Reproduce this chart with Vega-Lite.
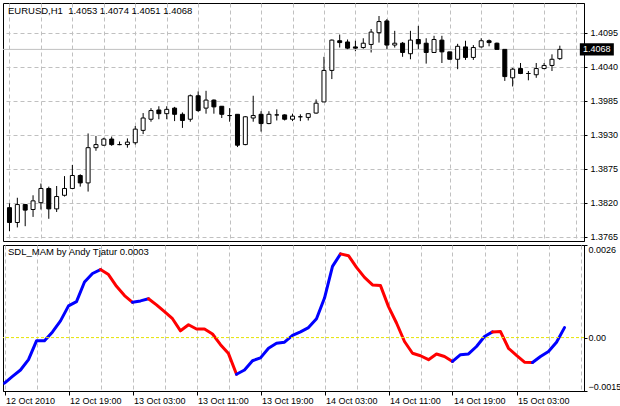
{
"$schema": "https://vega.github.io/schema/vega-lite/v6.json",
"background": "white",
"padding": {"left": 2, "top": 2, "right": 0, "bottom": 2},
"spacing": 1,
"config": {
  "view": {"stroke": "black", "strokeWidth": 1},
  "axis": {"labelFont": "Liberation Sans", "labelFontSize": 9, "labelColor": "black", "tickColor": "black", "domainColor": "black", "gridColor": "#C0C0C0", "gridDash": [4, 3], "tickSize": 3, "labelPadding": 3},
  "title": {"font": "Liberation Sans", "fontSize": 9.5, "fontWeight": "normal", "color": "black", "anchor": "start", "frame": "group", "baseline": "top", "offset": 0}
},
"datasets": {
"candles": [
{"t":"2010-10-12T11:00Z","o":1.3812,"h":1.3819,"l":1.3774,"c":1.3788},
{"t":"2010-10-12T12:00Z","o":1.3788,"h":1.3828,"l":1.3780,"c":1.3817},
{"t":"2010-10-12T13:00Z","o":1.3817,"h":1.3818,"l":1.3782,"c":1.3808},
{"t":"2010-10-12T14:00Z","o":1.3809,"h":1.3832,"l":1.3797,"c":1.3823},
{"t":"2010-10-12T15:00Z","o":1.3820,"h":1.3851,"l":1.3809,"c":1.3843},
{"t":"2010-10-12T16:00Z","o":1.3843,"h":1.3846,"l":1.3794,"c":1.3810},
{"t":"2010-10-12T17:00Z","o":1.3810,"h":1.3847,"l":1.3805,"c":1.3830},
{"t":"2010-10-12T18:00Z","o":1.3832,"h":1.3863,"l":1.3830,"c":1.3843},
{"t":"2010-10-12T19:00Z","o":1.3843,"h":1.3881,"l":1.3842,"c":1.3864},
{"t":"2010-10-12T20:00Z","o":1.3864,"h":1.3866,"l":1.3846,"c":1.3852},
{"t":"2010-10-12T21:00Z","o":1.3852,"h":1.3932,"l":1.3838,"c":1.3909},
{"t":"2010-10-12T22:00Z","o":1.3909,"h":1.3928,"l":1.3904,"c":1.3914},
{"t":"2010-10-12T23:00Z","o":1.3913,"h":1.3925,"l":1.3912,"c":1.3923},
{"t":"2010-10-13T00:00Z","o":1.3923,"h":1.3927,"l":1.3912,"c":1.3914},
{"t":"2010-10-13T01:00Z","o":1.3914,"h":1.3919,"l":1.3913,"c":1.3914},
{"t":"2010-10-13T02:00Z","o":1.3914,"h":1.3924,"l":1.3909,"c":1.3918},
{"t":"2010-10-13T03:00Z","o":1.3917,"h":1.3944,"l":1.3914,"c":1.3939},
{"t":"2010-10-13T04:00Z","o":1.3937,"h":1.3965,"l":1.3931,"c":1.3957},
{"t":"2010-10-13T05:00Z","o":1.3955,"h":1.3973,"l":1.3951,"c":1.3969},
{"t":"2010-10-13T06:00Z","o":1.3970,"h":1.3976,"l":1.3955,"c":1.3964},
{"t":"2010-10-13T07:00Z","o":1.3964,"h":1.3976,"l":1.3955,"c":1.3971},
{"t":"2010-10-13T08:00Z","o":1.3973,"h":1.3975,"l":1.3952,"c":1.3963},
{"t":"2010-10-13T09:00Z","o":1.3963,"h":1.3966,"l":1.3941,"c":1.3953},
{"t":"2010-10-13T10:00Z","o":1.3955,"h":1.3995,"l":1.3951,"c":1.3993},
{"t":"2010-10-13T11:00Z","o":1.3993,"h":1.4000,"l":1.3967,"c":1.3969},
{"t":"2010-10-13T12:00Z","o":1.3973,"h":1.4001,"l":1.3964,"c":1.3986},
{"t":"2010-10-13T13:00Z","o":1.3986,"h":1.3987,"l":1.3964,"c":1.3975},
{"t":"2010-10-13T14:00Z","o":1.3976,"h":1.3976,"l":1.3957,"c":1.3963},
{"t":"2010-10-13T15:00Z","o":1.3961,"h":1.3973,"l":1.3951,"c":1.3961},
{"t":"2010-10-13T16:00Z","o":1.3963,"h":1.3963,"l":1.3910,"c":1.3913},
{"t":"2010-10-13T17:00Z","o":1.3914,"h":1.3960,"l":1.3913,"c":1.3959},
{"t":"2010-10-13T18:00Z","o":1.3957,"h":1.3993,"l":1.3951,"c":1.3961},
{"t":"2010-10-13T19:00Z","o":1.3963,"h":1.3968,"l":1.3935,"c":1.3948},
{"t":"2010-10-13T20:00Z","o":1.3948,"h":1.3968,"l":1.3947,"c":1.3963},
{"t":"2010-10-13T21:00Z","o":1.3962,"h":1.3971,"l":1.3953,"c":1.3962},
{"t":"2010-10-13T22:00Z","o":1.3962,"h":1.3963,"l":1.3953,"c":1.3955},
{"t":"2010-10-13T23:00Z","o":1.3955,"h":1.3964,"l":1.3952,"c":1.3960},
{"t":"2010-10-14T00:00Z","o":1.3959,"h":1.3963,"l":1.3952,"c":1.3959},
{"t":"2010-10-14T01:00Z","o":1.3958,"h":1.3965,"l":1.3953,"c":1.3964},
{"t":"2010-10-14T02:00Z","o":1.3965,"h":1.3987,"l":1.3964,"c":1.3981},
{"t":"2010-10-14T03:00Z","o":1.3983,"h":1.4056,"l":1.3983,"c":1.4034},
{"t":"2010-10-14T04:00Z","o":1.4034,"h":1.4084,"l":1.4020,"c":1.4083},
{"t":"2010-10-14T05:00Z","o":1.4082,"h":1.4092,"l":1.4071,"c":1.4079},
{"t":"2010-10-14T06:00Z","o":1.4080,"h":1.4084,"l":1.4067,"c":1.4070},
{"t":"2010-10-14T07:00Z","o":1.4072,"h":1.4082,"l":1.4065,"c":1.4070},
{"t":"2010-10-14T08:00Z","o":1.4071,"h":1.4086,"l":1.4069,"c":1.4078},
{"t":"2010-10-14T09:00Z","o":1.4076,"h":1.4101,"l":1.4063,"c":1.4096},
{"t":"2010-10-14T10:00Z","o":1.4095,"h":1.4122,"l":1.4079,"c":1.4113},
{"t":"2010-10-14T11:00Z","o":1.4114,"h":1.4117,"l":1.4068,"c":1.4075},
{"t":"2010-10-14T12:00Z","o":1.4075,"h":1.4098,"l":1.4071,"c":1.4078},
{"t":"2010-10-14T13:00Z","o":1.4078,"h":1.4080,"l":1.4056,"c":1.4063},
{"t":"2010-10-14T14:00Z","o":1.4061,"h":1.4098,"l":1.4052,"c":1.4083},
{"t":"2010-10-14T15:00Z","o":1.4084,"h":1.4106,"l":1.4068,"c":1.4077},
{"t":"2010-10-14T16:00Z","o":1.4078,"h":1.4086,"l":1.4045,"c":1.4063},
{"t":"2010-10-14T17:00Z","o":1.4063,"h":1.4090,"l":1.4063,"c":1.4084},
{"t":"2010-10-14T18:00Z","o":1.4083,"h":1.4090,"l":1.4046,"c":1.4064},
{"t":"2010-10-14T19:00Z","o":1.4064,"h":1.4064,"l":1.4052,"c":1.4052},
{"t":"2010-10-14T20:00Z","o":1.4052,"h":1.4077,"l":1.4036,"c":1.4073},
{"t":"2010-10-14T21:00Z","o":1.4072,"h":1.4082,"l":1.4051,"c":1.4055},
{"t":"2010-10-14T22:00Z","o":1.4055,"h":1.4075,"l":1.4051,"c":1.4071},
{"t":"2010-10-14T23:00Z","o":1.4072,"h":1.4086,"l":1.4071,"c":1.4082},
{"t":"2010-10-15T00:00Z","o":1.4082,"h":1.4084,"l":1.4073,"c":1.4079},
{"t":"2010-10-15T01:00Z","o":1.4078,"h":1.4079,"l":1.4067,"c":1.4068},
{"t":"2010-10-15T02:00Z","o":1.4068,"h":1.4068,"l":1.4017,"c":1.4024},
{"t":"2010-10-15T03:00Z","o":1.4022,"h":1.4038,"l":1.4008,"c":1.4036},
{"t":"2010-10-15T04:00Z","o":1.4037,"h":1.4046,"l":1.4028,"c":1.4029},
{"t":"2010-10-15T05:00Z","o":1.4029,"h":1.4033,"l":1.4018,"c":1.4029},
{"t":"2010-10-15T06:00Z","o":1.4027,"h":1.4046,"l":1.4022,"c":1.4037},
{"t":"2010-10-15T07:00Z","o":1.4037,"h":1.4046,"l":1.4036,"c":1.4042},
{"t":"2010-10-15T08:00Z","o":1.4042,"h":1.4060,"l":1.4033,"c":1.4052},
{"t":"2010-10-15T09:00Z","o":1.4053,"h":1.4074,"l":1.4051,"c":1.4068}
],
"bid": [{"t":"2010-10-15T09:00Z","p":1.4068,"label":"1.4068"}],
"level": [{"v":0}],
"mam": [
{"t":"2010-10-12T11:00Z","v":-0.00128,"run":1,"dir":"up"},
{"t":"2010-10-12T12:00Z","v":-0.00109,"run":1,"dir":"up"},
{"t":"2010-10-12T13:00Z","v":-0.00091,"run":1,"dir":"up"},
{"t":"2010-10-12T14:00Z","v":-0.00062,"run":1,"dir":"up"},
{"t":"2010-10-12T15:00Z","v":-0.00009,"run":1,"dir":"up"},
{"t":"2010-10-12T16:00Z","v":-0.00009,"run":1,"dir":"up"},
{"t":"2010-10-12T17:00Z","v":0.00016,"run":1,"dir":"up"},
{"t":"2010-10-12T18:00Z","v":0.00047,"run":1,"dir":"up"},
{"t":"2010-10-12T19:00Z","v":0.00089,"run":1,"dir":"up"},
{"t":"2010-10-12T20:00Z","v":0.00101,"run":1,"dir":"up"},
{"t":"2010-10-12T21:00Z","v":0.00156,"run":1,"dir":"up"},
{"t":"2010-10-12T22:00Z","v":0.00180,"run":1,"dir":"up"},
{"t":"2010-10-12T23:00Z","v":0.00191,"run":1,"dir":"up"},
{"t":"2010-10-12T23:00Z","v":0.00191,"run":2,"dir":"down"},
{"t":"2010-10-13T00:00Z","v":0.00177,"run":2,"dir":"down"},
{"t":"2010-10-13T01:00Z","v":0.00144,"run":2,"dir":"down"},
{"t":"2010-10-13T02:00Z","v":0.00118,"run":2,"dir":"down"},
{"t":"2010-10-13T03:00Z","v":0.00099,"run":2,"dir":"down"},
{"t":"2010-10-13T03:00Z","v":0.00099,"run":3,"dir":"up"},
{"t":"2010-10-13T04:00Z","v":0.00103,"run":3,"dir":"up"},
{"t":"2010-10-13T05:00Z","v":0.00109,"run":3,"dir":"up"},
{"t":"2010-10-13T05:00Z","v":0.00109,"run":4,"dir":"down"},
{"t":"2010-10-13T06:00Z","v":0.00092,"run":4,"dir":"down"},
{"t":"2010-10-13T07:00Z","v":0.00073,"run":4,"dir":"down"},
{"t":"2010-10-13T08:00Z","v":0.00053,"run":4,"dir":"down"},
{"t":"2010-10-13T09:00Z","v":0.00019,"run":4,"dir":"down"},
{"t":"2010-10-13T10:00Z","v":0.00036,"run":4,"dir":"down"},
{"t":"2010-10-13T11:00Z","v":0.00024,"run":4,"dir":"down"},
{"t":"2010-10-13T12:00Z","v":0.00024,"run":4,"dir":"down"},
{"t":"2010-10-13T13:00Z","v":0.00010,"run":4,"dir":"down"},
{"t":"2010-10-13T14:00Z","v":-0.00020,"run":4,"dir":"down"},
{"t":"2010-10-13T15:00Z","v":-0.00045,"run":4,"dir":"down"},
{"t":"2010-10-13T16:00Z","v":-0.00103,"run":4,"dir":"down"},
{"t":"2010-10-13T16:00Z","v":-0.00103,"run":5,"dir":"up"},
{"t":"2010-10-13T17:00Z","v":-0.00091,"run":5,"dir":"up"},
{"t":"2010-10-13T18:00Z","v":-0.00065,"run":5,"dir":"up"},
{"t":"2010-10-13T19:00Z","v":-0.00057,"run":5,"dir":"up"},
{"t":"2010-10-13T20:00Z","v":-0.00030,"run":5,"dir":"up"},
{"t":"2010-10-13T21:00Z","v":-0.00016,"run":5,"dir":"up"},
{"t":"2010-10-13T22:00Z","v":-0.00013,"run":5,"dir":"up"},
{"t":"2010-10-13T23:00Z","v":0.00006,"run":5,"dir":"up"},
{"t":"2010-10-14T00:00Z","v":0.00016,"run":5,"dir":"up"},
{"t":"2010-10-14T01:00Z","v":0.00028,"run":5,"dir":"up"},
{"t":"2010-10-14T02:00Z","v":0.00053,"run":5,"dir":"up"},
{"t":"2010-10-14T03:00Z","v":0.00111,"run":5,"dir":"up"},
{"t":"2010-10-14T04:00Z","v":0.00200,"run":5,"dir":"up"},
{"t":"2010-10-14T05:00Z","v":0.00235,"run":5,"dir":"up"},
{"t":"2010-10-14T05:00Z","v":0.00235,"run":6,"dir":"down"},
{"t":"2010-10-14T06:00Z","v":0.00230,"run":6,"dir":"down"},
{"t":"2010-10-14T07:00Z","v":0.00197,"run":6,"dir":"down"},
{"t":"2010-10-14T08:00Z","v":0.00169,"run":6,"dir":"down"},
{"t":"2010-10-14T09:00Z","v":0.00148,"run":6,"dir":"down"},
{"t":"2010-10-14T10:00Z","v":0.00146,"run":6,"dir":"down"},
{"t":"2010-10-14T11:00Z","v":0.00087,"run":6,"dir":"down"},
{"t":"2010-10-14T12:00Z","v":0.00041,"run":6,"dir":"down"},
{"t":"2010-10-14T13:00Z","v":-0.00011,"run":6,"dir":"down"},
{"t":"2010-10-14T14:00Z","v":-0.00044,"run":6,"dir":"down"},
{"t":"2010-10-14T15:00Z","v":-0.00051,"run":6,"dir":"down"},
{"t":"2010-10-14T16:00Z","v":-0.00062,"run":6,"dir":"down"},
{"t":"2010-10-14T17:00Z","v":-0.00046,"run":6,"dir":"down"},
{"t":"2010-10-14T18:00Z","v":-0.00053,"run":6,"dir":"down"},
{"t":"2010-10-14T19:00Z","v":-0.00067,"run":6,"dir":"down"},
{"t":"2010-10-14T19:00Z","v":-0.00067,"run":7,"dir":"up"},
{"t":"2010-10-14T20:00Z","v":-0.00048,"run":7,"dir":"up"},
{"t":"2010-10-14T21:00Z","v":-0.00046,"run":7,"dir":"up"},
{"t":"2010-10-14T22:00Z","v":-0.00025,"run":7,"dir":"up"},
{"t":"2010-10-14T23:00Z","v":0.00003,"run":7,"dir":"up"},
{"t":"2010-10-15T00:00Z","v":0.00016,"run":7,"dir":"up"},
{"t":"2010-10-15T00:00Z","v":0.00016,"run":8,"dir":"down"},
{"t":"2010-10-15T01:00Z","v":0.00017,"run":8,"dir":"down"},
{"t":"2010-10-15T02:00Z","v":-0.00030,"run":8,"dir":"down"},
{"t":"2010-10-15T03:00Z","v":-0.00050,"run":8,"dir":"down"},
{"t":"2010-10-15T04:00Z","v":-0.00069,"run":8,"dir":"down"},
{"t":"2010-10-15T05:00Z","v":-0.00070,"run":8,"dir":"down"},
{"t":"2010-10-15T05:00Z","v":-0.00070,"run":9,"dir":"up"},
{"t":"2010-10-15T06:00Z","v":-0.00053,"run":9,"dir":"up"},
{"t":"2010-10-15T07:00Z","v":-0.00039,"run":9,"dir":"up"},
{"t":"2010-10-15T08:00Z","v":-0.00013,"run":9,"dir":"up"},
{"t":"2010-10-15T09:00Z","v":0.00028,"run":9,"dir":"up"}
]
},
"vconcat": [
{
 "width": 581, "height": 238,
 "title": {"text": "EURUSD,H1\u00a0 1.4053 1.4074 1.4051 1.4068", "dx": 5, "dy": 16},
 "layer": [
  {"data": {"name": "candles"},
   "mark": {"type": "rule", "color": "black", "strokeWidth": 1},
   "encoding": {
     "x": {"field": "t", "type": "temporal",
       "scale": {"type": "utc", "domain": [{"utc": true, "year":2010,"month":10,"date":12,"hours":10,"minutes":48,"seconds":45},{"utc": true, "year":2010,"month":10,"date":15,"hours":11,"minutes":26,"seconds":15}], "nice": false},
       "axis": {"title": null, "labels": false, "ticks": false, "domain": false, "grid": true, "tickCount": 30,
         "values": [{"utc":true,"year":2010,"month":10,"date":12,"hours":11},{"utc":true,"year":2010,"month":10,"date":12,"hours":15},{"utc":true,"year":2010,"month":10,"date":12,"hours":19},{"utc":true,"year":2010,"month":10,"date":12,"hours":23},{"utc":true,"year":2010,"month":10,"date":13,"hours":3},{"utc":true,"year":2010,"month":10,"date":13,"hours":7},{"utc":true,"year":2010,"month":10,"date":13,"hours":11},{"utc":true,"year":2010,"month":10,"date":13,"hours":15},{"utc":true,"year":2010,"month":10,"date":13,"hours":19},{"utc":true,"year":2010,"month":10,"date":13,"hours":23},{"utc":true,"year":2010,"month":10,"date":14,"hours":3},{"utc":true,"year":2010,"month":10,"date":14,"hours":7},{"utc":true,"year":2010,"month":10,"date":14,"hours":11},{"utc":true,"year":2010,"month":10,"date":14,"hours":15},{"utc":true,"year":2010,"month":10,"date":14,"hours":19},{"utc":true,"year":2010,"month":10,"date":14,"hours":23},{"utc":true,"year":2010,"month":10,"date":15,"hours":3},{"utc":true,"year":2010,"month":10,"date":15,"hours":7},{"utc":true,"year":2010,"month":10,"date":15,"hours":11}]}},
     "y": {"field": "l", "type": "quantitative", "scale": {"domain": [1.375805, 1.414304], "nice": false, "zero": false},
       "axis": {"orient": "right", "title": null, "grid": true, "format": ".4f", "labelOverlap": false, "tickCount": 10, "values": [1.3765, 1.382, 1.3875, 1.393, 1.3985, 1.404, 1.4095]}},
     "y2": {"field": "h"}}},
  {"data": {"name": "bid"},
   "mark": {"type": "rule", "color": "#C0C0C0", "strokeWidth": 1},
   "encoding": {"y": {"field": "p", "type": "quantitative"}}},
  {"data": {"name": "candles"},
   "mark": {"type": "bar", "width": 4, "stroke": "black", "strokeWidth": 1},
   "encoding": {
     "x": {"field": "t", "type": "temporal"},
     "y": {"field": "o", "type": "quantitative"},
     "y2": {"field": "c"},
     "fill": {"condition": {"test": "datum.c >= datum.o", "value": "white"}, "value": "black"}}},
  {"data": {"name": "bid"},
   "mark": {"type": "point", "shape": "M-1,-0.36L1,-0.36L1,0.36L-1,0.36Z", "filled": true, "fill": "black", "strokeWidth": 0, "size": 1156, "opacity": 1, "xOffset": 37},
   "encoding": {"x": {"field": "t", "type": "temporal"}, "y": {"field": "p", "type": "quantitative"}}},
  {"data": {"name": "bid"},
   "mark": {"type": "text", "fill": "white", "font": "Liberation Sans", "fontSize": 9, "align": "center", "baseline": "middle", "dx": 37},
   "encoding": {"x": {"field": "t", "type": "temporal"}, "y": {"field": "p", "type": "quantitative"}, "text": {"field": "label"}}}
 ]
},
{
 "width": 581, "height": 146,
 "title": {"text": "SDL_MAM by Andy Tjatur 0.0003", "dx": 5, "dy": 16},
 "layer": [
  {"data": {"name": "mam"},
   "mark": {"type": "line", "strokeWidth": 3, "strokeCap": "round", "strokeJoin": "round"},
   "encoding": {
     "x": {"field": "t", "type": "temporal",
       "scale": {"type": "utc", "domain": [{"utc": true, "year":2010,"month":10,"date":12,"hours":10,"minutes":48,"seconds":45},{"utc": true, "year":2010,"month":10,"date":15,"hours":11,"minutes":26,"seconds":15}], "nice": false},
       "axis": {"title": null, "grid": true, "labelAlign": "left", "labelBaseline": "top", "labelOffset": 1, "labelPadding": 1, "tickSize": 4, "labelFlush": false, "labelBound": false, "tickCount": 30,
         "labelExpr": "(utchours(datum.value) % 8 != 3 || (utcdate(datum.value) == 15 && utchours(datum.value) == 11)) ? '' : ((utcdate(datum.value) == 12 && utchours(datum.value) == 11) ? '12 Oct 2010' : utcFormat(datum.value, '%d %b %H:%M'))",
         "tickOpacity": {"condition": {"test": "utchours(datum.value) % 8 == 3 && !(utcdate(datum.value) == 15 && utchours(datum.value) == 11)", "value": 1}, "value": 0},
         "values": [{"utc":true,"year":2010,"month":10,"date":12,"hours":11},{"utc":true,"year":2010,"month":10,"date":12,"hours":15},{"utc":true,"year":2010,"month":10,"date":12,"hours":19},{"utc":true,"year":2010,"month":10,"date":12,"hours":23},{"utc":true,"year":2010,"month":10,"date":13,"hours":3},{"utc":true,"year":2010,"month":10,"date":13,"hours":7},{"utc":true,"year":2010,"month":10,"date":13,"hours":11},{"utc":true,"year":2010,"month":10,"date":13,"hours":15},{"utc":true,"year":2010,"month":10,"date":13,"hours":19},{"utc":true,"year":2010,"month":10,"date":13,"hours":23},{"utc":true,"year":2010,"month":10,"date":14,"hours":3},{"utc":true,"year":2010,"month":10,"date":14,"hours":7},{"utc":true,"year":2010,"month":10,"date":14,"hours":11},{"utc":true,"year":2010,"month":10,"date":14,"hours":15},{"utc":true,"year":2010,"month":10,"date":14,"hours":19},{"utc":true,"year":2010,"month":10,"date":14,"hours":23},{"utc":true,"year":2010,"month":10,"date":15,"hours":3},{"utc":true,"year":2010,"month":10,"date":15,"hours":7},{"utc":true,"year":2010,"month":10,"date":15,"hours":11}]}},
     "y": {"field": "v", "type": "quantitative", "scale": {"domain": [-0.0015, 0.0026], "nice": false, "zero": false},
       "axis": {"orient": "right", "title": null, "grid": false, "labelFlush": true, "labelPadding": 1, "tickCount": 10, "values": [-0.0015, 0, 0.0026],
         "labelExpr": "datum.value == 0 ? '0.00' : format(datum.value, '.4f')"}},
     "color": {"field": "dir", "type": "nominal", "scale": {"domain": ["up", "down"], "range": ["#0000FF", "#FF0000"]}, "legend": null},
     "detail": {"field": "run", "type": "nominal"}}},
  {"data": {"name": "level"},
   "mark": {"type": "rule", "color": "#E6E600", "strokeWidth": 1, "strokeDash": [3, 2]},
   "encoding": {"y": {"field": "v", "type": "quantitative"}}}
 ]
}
]
}
